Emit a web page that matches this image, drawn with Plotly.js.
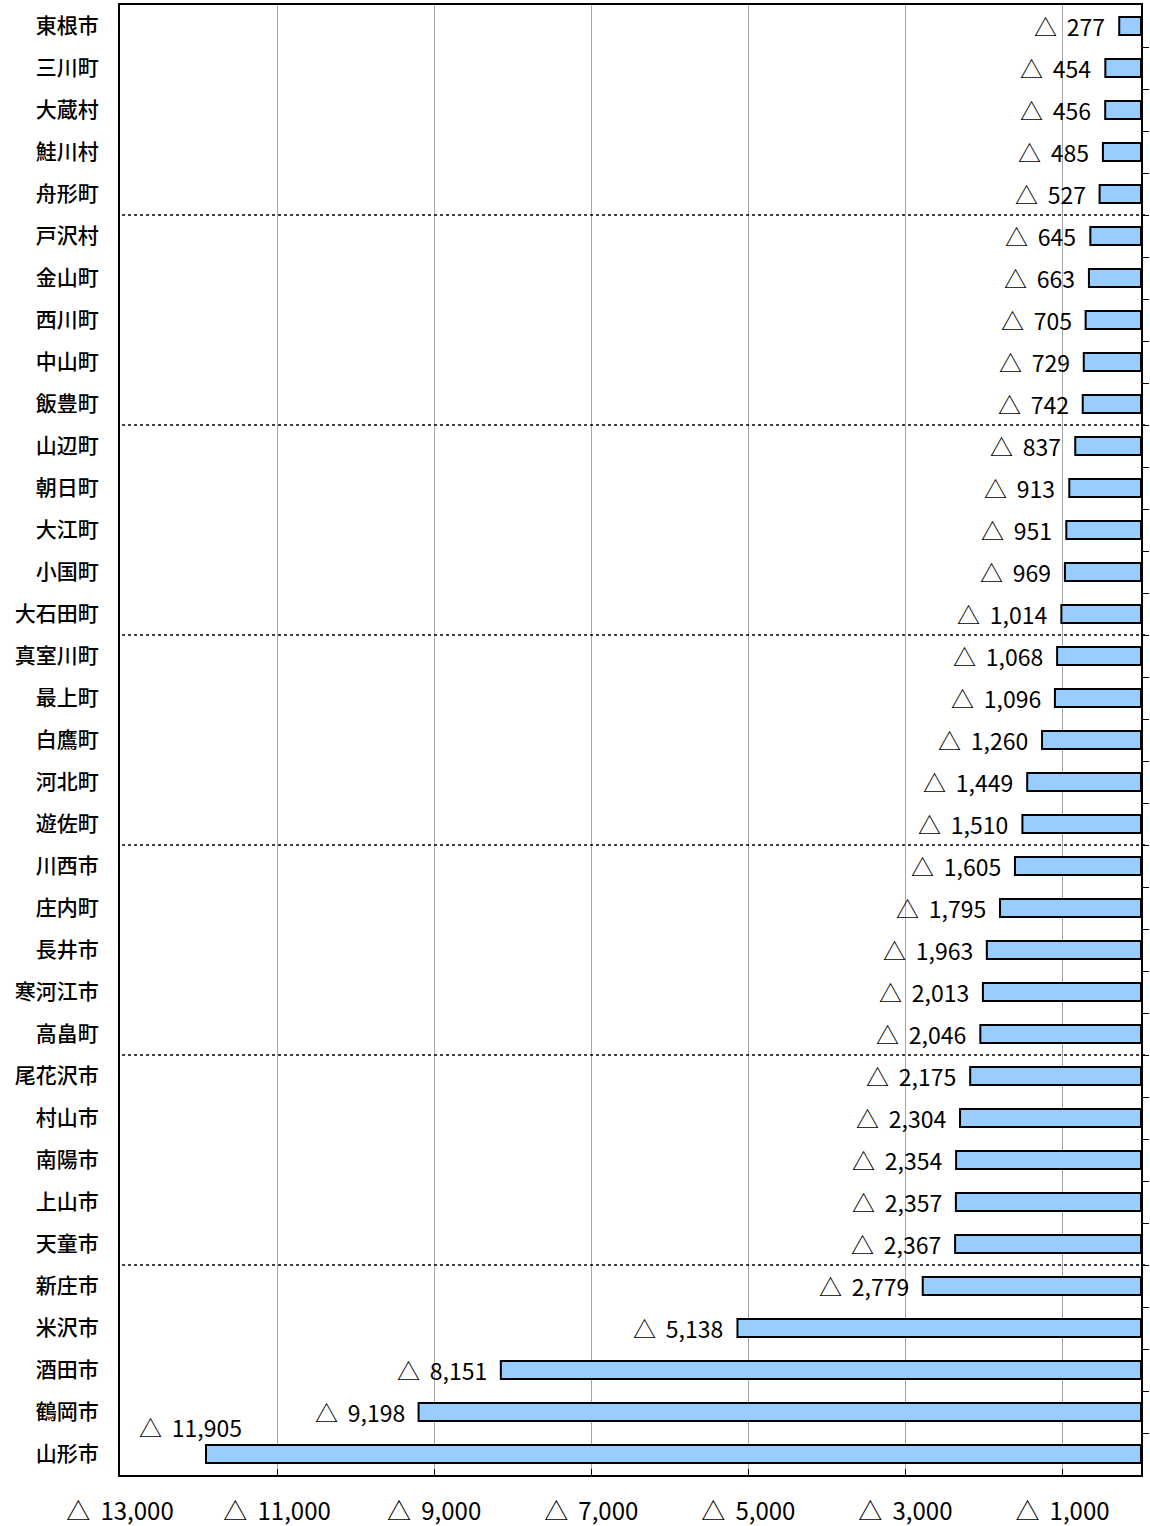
<!DOCTYPE html>
<html>
<head>
<meta charset="utf-8">
<script src="https://cdn.plot.ly/plotly-3.0.1.min.js"></script>
<style>html,body{margin:0;padding:0;background:#fff;}#chart{width:1150px;height:1526px;}</style>
</head>
<body>
<div id="chart"></div>
<script>
const municipalities = ["東根市","三川町","大蔵村","鮭川村","舟形町","戸沢村","金山町","西川町","中山町","飯豊町","山辺町","朝日町","大江町","小国町","大石田町","真室川町","最上町","白鷹町","河北町","遊佐町","川西市","庄内町","長井市","寒河江市","高畠町","尾花沢市","村山市","南陽市","上山市","天童市","新庄市","米沢市","酒田市","鶴岡市","山形市"];
const decrease = [277,454,456,485,527,645,663,705,729,742,837,913,951,969,1014,1068,1096,1260,1449,1510,1605,1795,1963,2013,2046,2175,2304,2354,2357,2367,2779,5138,8151,9198,11905];
const tickValues = [1000,3000,5000,7000,9000,11000,13000];
const groupSize = 5;

const fmt = v => "△\u2009 " + v.toLocaleString("en-US");
const FONT = "Noto Sans CJK JP";
const n = municipalities.length;

const trace = {
  type: "bar",
  orientation: "h",
  y: municipalities,
  x: decrease.map(v => -v),
  width: 0.43,
  marker: {color: "#99CCFF", line: {color: "#000", width: 2}},
  hoverinfo: "skip"
};

const annotations = municipalities.map((m, i) => {
  const last = i === n - 1;
  return {
    x: -decrease[i], y: m, xref: "x", yref: "y",
    text: fmt(decrease[i]), showarrow: false,
    xanchor: last ? "center" : "right",
    xshift: last ? -16 : -12,
    yshift: last ? 27 : 0,
    font: {family: FONT, size: 23, color: "#000"}
  };
});

const shapes = [];
for (let k = groupSize; k < n - 4; k += groupSize) {
  shapes.push({type: "line", xref: "paper", yref: "y", x0: 0.002, x1: 1.006, y0: k - 0.5, y1: k - 0.5,
    line: {color: "#000", width: 1.5, dash: "dot"}});
}

const boundaryTicks = municipalities.slice(1).map((_, i) => i + 0.5);

const layout = {
  width: 1150, height: 1526,
  margin: {l: 120, r: 9, t: 5, b: 51},
  paper_bgcolor: "#fff", plot_bgcolor: "#fff",
  showlegend: false,
  xaxis: {
    range: [-13000, 0],
    tickvals: tickValues.map(v => -v),
    ticktext: tickValues.map(fmt),
    showgrid: true, gridcolor: "#a6a6a6", gridwidth: 1,
    zeroline: false,
    showline: true, linecolor: "#000", linewidth: 2, mirror: true,
    ticks: "inside", ticklen: 6, tickcolor: "#000",
    ticklabelstandoff: 14,
    tickfont: {family: FONT, size: 24, color: "#000"},
    fixedrange: true
  },
  yaxis: {
    type: "category",
    range: [n - 0.5, -0.5],
    autorange: false,
    showline: true, linecolor: "#000", linewidth: 2, mirror: true,
    ticks: "", showgrid: false,
    ticklabelstandoff: 15,
    tickfont: {family: FONT, size: 21, color: "#000", weight: 500},
    fixedrange: true
  },
  yaxis2: {
    overlaying: "y", side: "right",
    range: [n - 0.5, -0.5], autorange: false,
    tickvals: boundaryTicks, showticklabels: false,
    ticks: "outside", ticklen: 7, tickcolor: "#000", tickwidth: 1,
    showgrid: false, zeroline: false, showline: false,
    fixedrange: true
  },
  shapes: shapes,
  annotations: annotations
};

const dummy = {type: "scatter", x: [null], y: [null], yaxis: "y2", xaxis: "x", hoverinfo: "skip", showlegend: false};

Plotly.newPlot("chart", [trace, dummy], layout, {displayModeBar: false, staticPlot: true});
</script>
</body>
</html>
